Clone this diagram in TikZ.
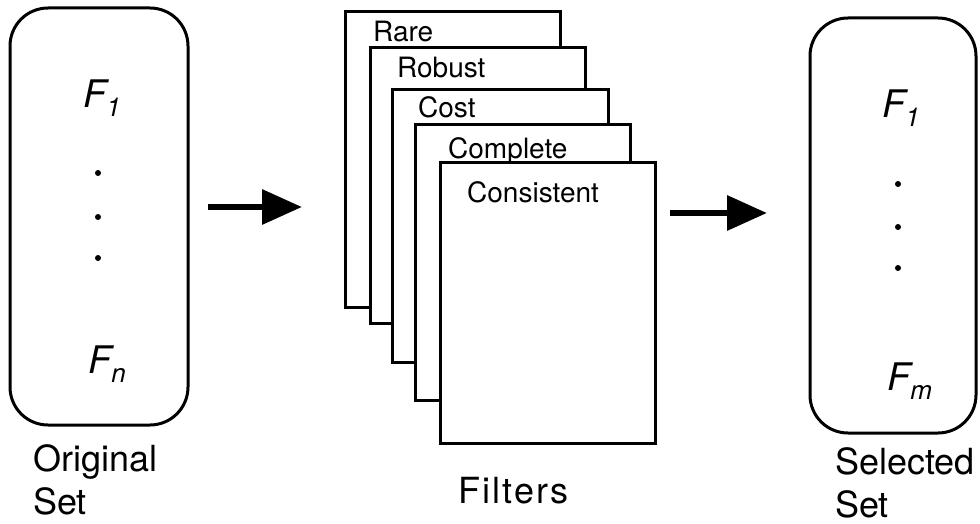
\documentclass[tikz,border=0pt]{standalone}
\usepackage{fontspec}
\setmainfont{TeX Gyre Heros}
\usetikzlibrary{arrows.meta}
\tikzset{
  setbox/.style={draw, line width=3pt, rounded corners=38pt, inner sep=0pt},
  filt/.style={draw, fill=white, line width=3pt, inner sep=0pt},
  flabel/.style={anchor=base west, inner sep=0pt, font=\fontsize{28}{30}\selectfont},
  caption/.style={anchor=base west, inner sep=0pt, align=left, font=\fontsize{36}{43}\selectfont},
  feat/.style={anchor=base west, inner sep=0pt, font=\fontsize{38}{40}\selectfont\itshape},
  dotmark/.style={fill, circle, inner sep=0pt, minimum size=6pt},
  bigarrow/.style={line width=6.5pt, -{Triangle[length=40pt 0, width=34pt 0]}}
}
\newcommand{\fsub}[1]{F\raisebox{-9pt}{\fontsize{26}{26}\selectfont #1}}
\begin{document}
\begin{tikzpicture}[x=1pt, y=-1pt]
\useasboundingbox (0,0) rectangle (980,524);
% left box
\node[setbox, minimum width=178pt, minimum height=417pt] (orig) at (99,216.5) {};
\node[feat] (of1) at (83,108) {\fsub{1}};
\node[dotmark] (od1) at (98,173) {};
\node[dotmark] (od2) at (98,217) {};
\node[dotmark] (od3) at (98,258) {};
\node[feat] (ofn) at (88,373) {\fsub{n}};
\node[caption] (origcap) at (33,514) {Original\\Set};
% arrow 1
\coordinate (a1s) at (208,207);
\coordinate (a1e) at (302,207);
\draw[bigarrow] (a1s) -- (a1e);
% filters
\node[filt, minimum width=215pt, minimum height=295pt] (rare) at (452.5,159.5) {};
\node[flabel] (rarel) at (373,42) {Rare};
\node[filt, minimum width=215pt, minimum height=275pt] (robust) at (477.5,185.5) {};
\node[flabel] (robustl) at (397,78) {Robust};
\node[filt, minimum width=216pt, minimum height=272pt] (cost) at (500,226) {};
\node[flabel] (costl) at (418,118) {Cost};
\node[filt, minimum width=215pt, minimum height=275pt] (complete) at (522.5,262.5) {};
\node[flabel] (completel) at (448,158) {Complete};
\node[filt, minimum width=215pt, minimum height=280pt] (consistent) at (547.5,303) {};
\node[flabel] (consistentl) at (467,202) {Consistent};
\node[caption, font=\fontsize{36}{43}\selectfont\addfontfeature{LetterSpace=6}] (filtcap) at (458,503) {Filters};
% arrow 2
\coordinate (a2s) at (670,213);
\coordinate (a2e) at (767,213);
\draw[bigarrow] (a2s) -- (a2e);
% right box
\node[setbox, minimum width=166pt, minimum height=415pt] (sel) at (893,225.5) {};
\node[feat] (sf1) at (882,118) {\fsub{1}};
\node[dotmark] (sd1) at (898,184) {};
\node[dotmark] (sd2) at (898,227) {};
\node[dotmark] (sd3) at (898,268) {};
\node[feat] (sfm) at (887,390) {\fsub{m}};
\node[caption] (selcap) at (835,517) {Selected\\Set};
\end{tikzpicture}
\end{document}
